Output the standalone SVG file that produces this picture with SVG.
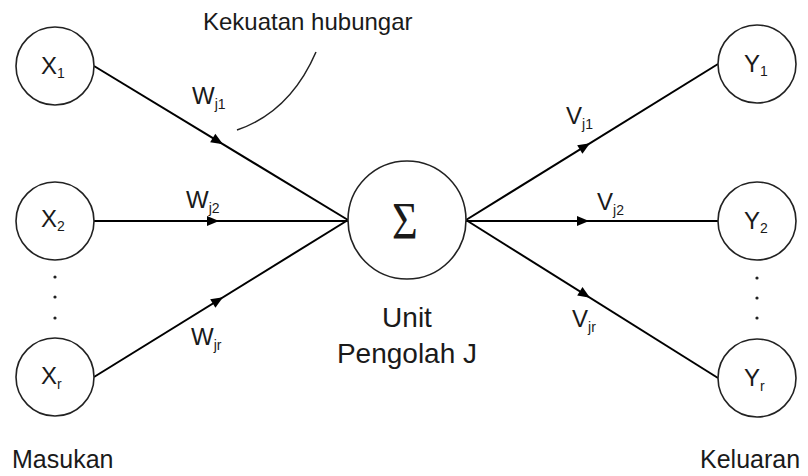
<svg xmlns="http://www.w3.org/2000/svg" width="808" height="476" viewBox="0 0 808 476">
<style>
.node{fill:#fff;stroke:#222;stroke-width:1.6}
.edge{stroke:#000;stroke-width:2;fill:none}
.t{font-family:"Liberation Sans",Arial,sans-serif;fill:#1a1a1a}
.lbl{font-size:24px}
.sub{font-size:14px}
.dot{fill:#222}
</style>
<defs>
<path id="ah" d="M-12,-5 L0,0 L-12,5 Z" fill="#000"/>
</defs>
<rect width="808" height="476" fill="#fff"/>
<g id="connectors">
<line class="edge" x1="94" y1="66" x2="348" y2="220"/>
<line class="edge" x1="94" y1="221" x2="348" y2="221"/>
<line class="edge" x1="94" y1="377" x2="348" y2="220"/>
<line class="edge" x1="466" y1="220" x2="718" y2="64"/>
<line class="edge" x1="466" y1="221" x2="718" y2="221"/>
<line class="edge" x1="466" y1="220" x2="718" y2="378"/>
<use href="#ah" transform="translate(223,144.2) rotate(31.2)"/>
<use href="#ah" transform="translate(219,221)"/>
<use href="#ah" transform="translate(223,297.3) rotate(-31.7)"/>
<use href="#ah" transform="translate(590,143.2) rotate(-31.8)"/>
<use href="#ah" transform="translate(589,221)"/>
<use href="#ah" transform="translate(590,297.7) rotate(32.1)"/>
<path d="M316,52 Q290,112 237,130" fill="none" stroke="#222" stroke-width="1.5"/>
</g>
<g id="x1"><circle class="node" cx="55" cy="66" r="39"/><text class="t lbl" x="41" y="74">X<tspan class="sub" dy="4">1</tspan></text></g>
<g id="x2"><circle class="node" cx="55" cy="221" r="39"/><text class="t lbl" x="41" y="227">X<tspan class="sub" dy="4">2</tspan></text></g>
<g id="xn"><circle class="node" cx="55" cy="377" r="39"/><text class="t lbl" x="41" y="384">X<tspan class="sub" dy="5">r</tspan></text></g>
<g id="xdots"><circle class="dot" cx="55" cy="277" r="1.6"/><circle class="dot" cx="55" cy="297" r="1.6"/><circle class="dot" cx="55" cy="318" r="1.6"/></g>
<g id="sum"><circle class="node" cx="407" cy="220" r="59"/><text x="405" y="239" text-anchor="middle" font-family="Liberation Serif,serif" font-size="52" fill="#1a1a1a" transform="translate(405,0) scale(0.85,1) translate(-405,0)">Σ</text></g>
<g id="y1"><circle class="node" cx="757" cy="64" r="39"/><text class="t lbl" x="744" y="72">Y<tspan class="sub" dy="4">1</tspan></text></g>
<g id="y2"><circle class="node" cx="757" cy="221" r="39"/><text class="t lbl" x="744" y="229">Y<tspan class="sub" dy="4">2</tspan></text></g>
<g id="yn"><circle class="node" cx="757" cy="378" r="39"/><text class="t lbl" x="744" y="386">Y<tspan class="sub" dy="5">r</tspan></text></g>
<g id="ydots"><circle class="dot" cx="757" cy="278" r="1.6"/><circle class="dot" cx="757" cy="298" r="1.6"/><circle class="dot" cx="757" cy="318" r="1.6"/></g>
<g id="labels">
<text class="t lbl" x="192" y="104">W<tspan class="sub" dy="5">j1</tspan></text>
<text class="t lbl" x="186" y="208">W<tspan class="sub" dy="5">j2</tspan></text>
<text class="t lbl" x="191" y="345">W<tspan class="sub" dy="5">jr</tspan></text>
<text class="t lbl" x="566" y="124">V<tspan class="sub" dy="5">j1</tspan></text>
<text class="t lbl" x="597" y="210">V<tspan class="sub" dy="5">j2</tspan></text>
<text class="t lbl" x="572" y="327">V<tspan class="sub" dy="5">jr</tspan></text>
<text class="t" x="203" y="30" font-size="24">Kekuatan hubungar</text>
<text class="t" x="407" y="327" font-size="28" text-anchor="middle">Unit</text>
<text class="t" x="407" y="363" font-size="28" text-anchor="middle">Pengolah J</text>
<text class="t" x="12" y="468" font-size="25">Masukan</text>
<text class="t" x="700" y="468" font-size="25">Keluaran</text>
</g>
</svg>
